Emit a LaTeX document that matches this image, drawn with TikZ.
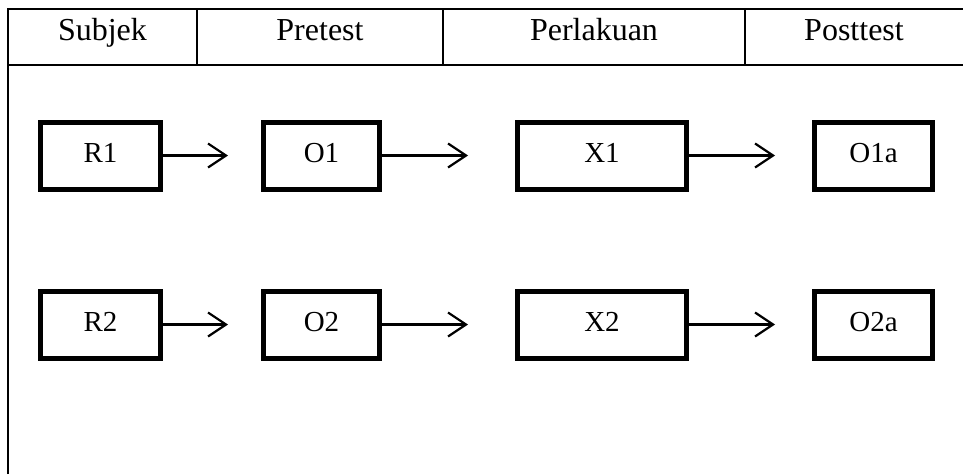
\documentclass[tikz,border=0pt]{standalone}
\usepackage{fontspec}
\setmainfont{Liberation Serif}
\usetikzlibrary{arrows.meta}

\begin{document}
\begin{tikzpicture}[x=1pt,y=-1pt,
  garis/.style={line width=2.6pt},
  judul/.style={anchor=base,font=\fontsize{32}{36}\selectfont},
  kotak/.style={draw,line width=5pt,minimum height=67pt,inner sep=0pt,
    text height=20pt,text depth=7pt,font=\fontsize{29}{33}\selectfont},
  panah/.style={line width=2.2pt,-{Straight Barb[length=18pt,width=24pt]}}]

  \useasboundingbox (0,0) rectangle (963,474);

  % Table head
  \draw[garis] (8,474) -- (8,9) -- (963,9);
  \draw[garis] (8,65) -- (963,65);
  \foreach \x in {197,443,745}
    \draw[garis] (\x,9) -- (\x,65);

  \node[judul] (subjek) at (102.5,40) {Subjek};
  \node[judul] (pretest) at (320,40) {Pretest};
  \node[judul] (perlakuan) at (594,40) {Perlakuan};
  \node[judul] (posttest) at (854,40) {Posttest};

  % Two groups: subject -> pretest -> treatment -> posttest
  \foreach \i/\y in {1/155.5,2/324.5} {
    \node[kotak,minimum width=120pt] (r\i) at (100.5,\y) {R\i};
    \node[kotak,minimum width=116pt] (o\i) at (321.5,\y) {O\i};
    \node[kotak,minimum width=169pt] (x\i) at (602,\y) {X\i};
    \node[kotak,minimum width=118pt] (p\i) at (873.5,\y) {O\i a};

    \draw[panah,shorten >=33pt] (r\i) -- (o\i);
    \draw[panah,shorten >=47pt] (o\i) -- (x\i);
    \draw[panah,shorten >=37pt] (x\i) -- (p\i);
  }

\end{tikzpicture}
\end{document}
